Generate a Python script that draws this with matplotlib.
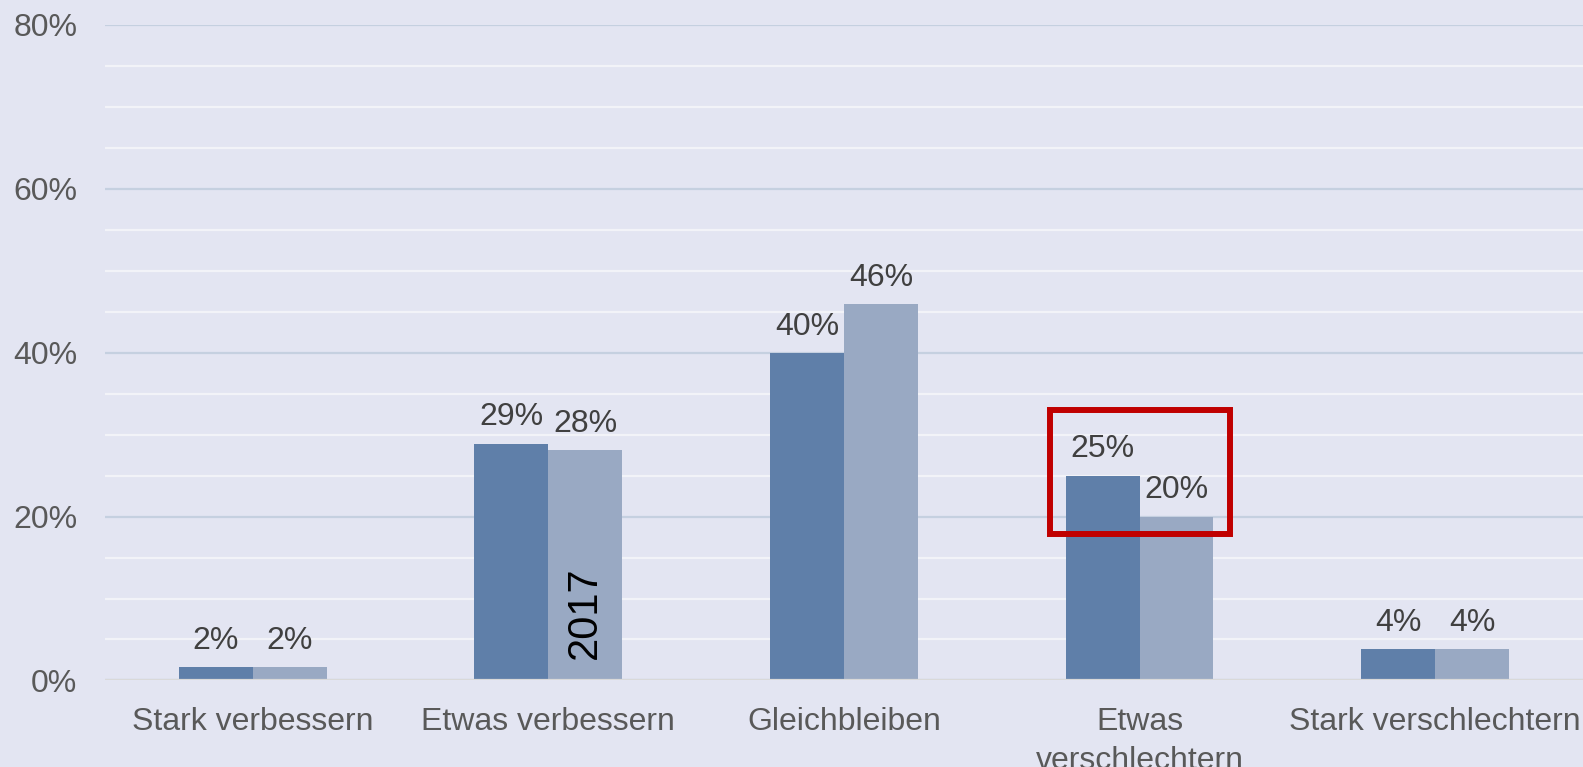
import numpy as np
import matplotlib.pyplot as plt
from matplotlib.patches import Rectangle
from matplotlib.ticker import MultipleLocator, FuncFormatter

plt.rcParams['font.family'] = ['Liberation Sans', 'DejaVu Sans']

# data
categories = ['Stark verbessern', 'Etwas verbessern', 'Gleichbleiben',
              'Etwas\nverschlechtern', 'Stark verschlechtern']
series_a = [1.6, 28.9, 39.9, 25.0, 3.8]   # dark bars
series_b = [1.6, 28.1, 45.9, 20.0, 3.8]   # light bars (2017)
yticks = [0, 20, 40, 60, 80]

dark = '#5F7FA9'
light = '#99A9C3'
bg = '#E3E5F2'

fig = plt.figure(figsize=(15.83, 7.67), dpi=100, facecolor=bg)
ax = fig.add_axes([0.0663, 0.1128, 0.9337, 0.855])
ax.set_facecolor(bg)

x = np.arange(len(categories))
w = 0.25
bars_a = ax.bar(x - w / 2, series_a, w, color=dark, zorder=3)
bars_b = ax.bar(x + w / 2, series_b, w, color=light, zorder=3)

# value labels
for bars, vals in [(bars_a, series_a), (bars_b, series_b)]:
    for b, v in zip(bars, vals):
        ax.annotate(f'{round(v)}%', (b.get_x() + b.get_width() / 2, v),
                    xytext=(0, 8), textcoords='offset points',
                    ha='center', va='bottom', fontsize=23, color='#404040', zorder=5)

# rotated year label inside the light bar
ax.text(x[1] + w / 2, 8.3, '2017', rotation=90, ha='center', va='center',
        fontsize=30, color='black', zorder=5)

# red highlight box
ax.add_patch(Rectangle((2.697, 17.9), 0.609, 15.15, fill=False,
                       edgecolor='#C00000', linewidth=4.3, zorder=6, clip_on=False))

ax.set_xlim(-0.5, 4.5)
ax.set_ylim(0, 80)
ax.set_yticks(yticks)
ax.yaxis.set_minor_locator(MultipleLocator(5))
ax.yaxis.set_major_formatter(FuncFormatter(lambda v, p: f'{v:.0f}%'))
ax.grid(axis='y', which='major', color='#C5D0E0', linewidth=1.6, zorder=0)
ax.grid(axis='y', which='minor', color='#F2F3F8', linewidth=1.6, zorder=0)
ax.axhline(0, color='#D9D9D9', linewidth=1.6, zorder=4)

ax.set_xticks(x)
ax.set_xticklabels(categories, linespacing=1.4)
ax.tick_params(axis='x', length=0, pad=19, labelsize=23, labelcolor='#595959')
ax.tick_params(axis='y', which='both', length=0, pad=20, labelsize=23, labelcolor='#595959')
for s in ax.spines.values():
    s.set_visible(False)

fig.savefig('out.png', dpi=100, facecolor=bg)
